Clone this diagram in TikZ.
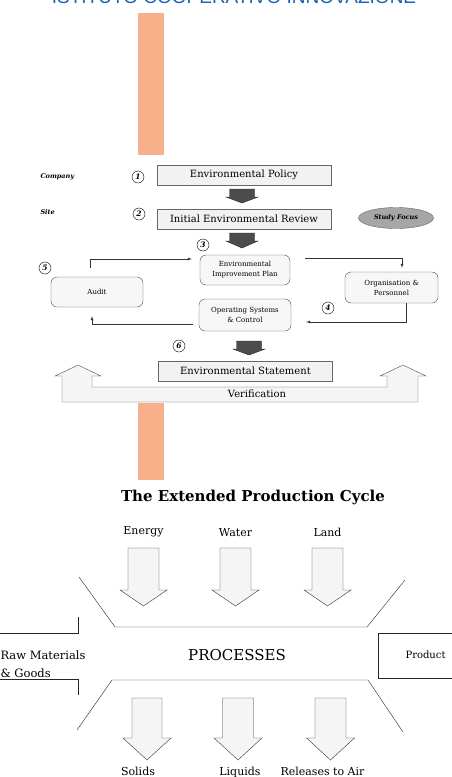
\documentclass[tikz,border=0pt]{standalone}
\usepackage{fontspec}
\setmainfont{DejaVu Serif}
\newfontfamily\headfont{Liberation Sans}
\usetikzlibrary{calc,positioning,shapes.geometric,arrows}
\definecolor{barorange}{HTML}{F8B08A}
\definecolor{headblue}{HTML}{1763B5}
\tikzset{
  stagebox/.style={ % image of a stage of the scheme
    draw=black!60, fill=black!5, rectangle,
    minimum width=174pt, minimum height=20pt,
    inner sep=0pt, font=\fontsize{10}{11}\selectfont
  },
  roundbox/.style={  % image of a rounded step box
    draw=black!70, fill=black!3, rounded corners=6pt,
    align=center, inner sep=0pt,
    font=\fontsize{7}{10}\selectfont
  },
  stepnum/.style={  % circled step number
    draw, circle, inner sep=0.6pt, minimum size=12pt,
    font=\fontsize{7.5}{7.5}\selectfont\itshape\bfseries
  },
  sidelabel/.style={
    anchor=west, font=\fontsize{6.5}{7}\selectfont\itshape\bfseries
  },
  darkblock/.style={fill=black!70, draw=black!85},  % dark arrow between stages
  flowblock/.style={draw=black!80, fill=black!4},   % light arrow of the cycle
  flowtext/.style={font=\fontsize{11}{13}\selectfont}
}
% block arrow pointing down: [style]{name}{x}{top}{head base}{tip}{half shaft}{half head}
\newcommand{\blockdown}[8][]{%
  \draw[#1] ({#3-#7},#4) -- ({#3+#7},#4) -- ({#3+#7},#5) -- ({#3+#8},#5)
    -- (#3,#6) -- ({#3-#8},#5) -- ({#3-#7},#5) -- cycle;
  \coordinate (#2) at (#3,#4);
  \coordinate (#2tip) at (#3,#6);}

\begin{document}
\begin{tikzpicture}[x=1pt, y=-1pt]
  \useasboundingbox (0,0) rectangle (452,777);
  \clip (0,0) rectangle (452,777);

  \node[anchor=base, text=headblue, font=\headfont\fontsize{19}{19}\selectfont] (header) at (234,3)
    {ISTITUTO COOPERATIVO INNOVAZIONE};

  \fill[barorange] (138,13) rectangle (164,155);
  \fill[barorange] (138,403) rectangle (164,480);

  % the scheme
  \node[stagebox] (policy) at (244,175) {Environmental Policy};
  \node[stagebox] (review) at (244,219) {Initial Environmental Review};
  \node[stagebox] (statement) at (245.5,371) {Environmental Statement};
  \node[roundbox, minimum width=90pt, minimum height=30pt] (plan) at (245,270) {Environmental\\Improvement Plan};
  \node[roundbox, minimum width=92pt, minimum height=32pt] (ops) at (245,315) {Operating Systems\\\& Control};
  \node[roundbox, minimum width=92pt, minimum height=30pt] (audit) at (97,292) {Audit};
  \node[roundbox, minimum width=93pt, minimum height=31pt] (org) at (391.5,287.5) {Organisation \&\\Personnel};
  \node[ellipse, draw=black!60, fill=black!35, minimum width=75pt, minimum height=21pt, inner sep=0pt,
    font=\fontsize{6.5}{7}\selectfont\itshape\bfseries] (focus) at (396,218) {Study Focus};

  \blockdown[darkblock]{d1}{242}{189}{197}{203}{12.5}{16}
  \blockdown[darkblock]{d2}{242}{233}{241}{248}{12.5}{16}
  \blockdown[darkblock]{d3}{249}{341}{349}{355}{12.5}{16}

  \node[sidelabel] (company) at (37,177) {Company};
  \node[sidelabel] (site) at (37,212) {Site};
  \node[stepnum] (n1) at (138,177) {1};
  \node[stepnum] (n2) at (139,214) {2};
  \node[stepnum] (n3) at (203,245) {3};
  \node[stepnum] (n4) at (328,308) {4};
  \node[stepnum] (n5) at (45,268) {5};
  \node[stepnum] (n6) at (179,346) {6};
  \node[stepnum] (n7) at (206,394) {7};

  \coordinate (auditout) at (90,268);
  \draw[-latex, black!80] (auditout) |- ([xshift=-8pt,yshift=11pt]plan.west);
  \draw[-latex, black!80] ([xshift=15pt,yshift=12pt]plan.east) -| ([xshift=10.5pt,yshift=4pt]org.north);
  \draw[-latex, black!80] ([xshift=14.5pt]org.south) |- ([xshift=15pt,yshift=-7pt]ops.east);
  \draw[-latex, black!80] ([xshift=-6pt,yshift=-9pt]ops.west) -| ([xshift=-5pt,yshift=-9pt]audit.south);

  % verification band
  \draw[black!70, fill=black!4] (92,387) -- (92,376) -- (101,376) -- (78,365) -- (55,376) -- (62,376)
    -- (62,402) -- (418,402) -- (418,376) -- (426,376) -- (403,365) -- (380,376) -- (387,376)
    -- (387,387) -- cycle;
  \node[stagebox, draw=none, fill=none, minimum width=0pt] (verif) at (257,394) {Verification};

  % the extended production cycle
  \node[font=\fontsize{15}{17}\selectfont\bfseries] (title) at (253,497) {The Extended Production Cycle};

  \blockdown[flowblock]{energy}{143.5}{548}{590}{606}{15.5}{23.5}
  \blockdown[flowblock]{water}{235.5}{548}{590}{606}{15.5}{23.5}
  \blockdown[flowblock]{land}{327.5}{548}{590}{606}{15.5}{23.5}
  \node[flowtext, above=8pt of energy] (energy_label) {Energy};
  \node[flowtext, above=8pt of water] (water_label) {Water};
  \node[flowtext, above=8pt of land] (land_label) {Land};

  \draw[black!85] (79,577) -- (115,627) -- (367,627) -- (405,580);
  \draw[black!85] (77,730) -- (112,680) -- (368,680) -- (403,732);
  \draw[black!85] (0,633) -- (78,633) -- (78,617);
  \draw[black!85] (0,679) -- (78,679) -- (78,695);
  \draw[black!85] (452,633) -- (378,633) -- (378,678) -- (452,678);

  \node[flowtext, anchor=west, align=left, font=\fontsize{11.5}{18}\selectfont] (raw) at (-3,664) {Raw Materials\\\& Goods};
  \node[font=\fontsize{15}{16}\selectfont] (processes) at (237,655) {PROCESSES};
  \node[anchor=west, font=\fontsize{10}{12}\selectfont] (product) at (402,655) {Product};

  \blockdown[flowblock]{solids}{147}{698}{738}{760}{15}{24}
  \blockdown[flowblock]{liquids}{238}{698}{738}{760}{15.5}{24}
  \blockdown[flowblock]{air}{330.5}{698}{738}{760}{15.5}{24}
  \node[flowtext, below=4pt of solidstip, xshift=-9pt] (solids_label) {Solids};
  \node[flowtext, below=4pt of liquidstip, xshift=2pt] (liquids_label) {Liquids};
  \node[flowtext, below=4pt of airtip, xshift=-8pt] (air_label) {Releases to Air};
\end{tikzpicture}
\end{document}
